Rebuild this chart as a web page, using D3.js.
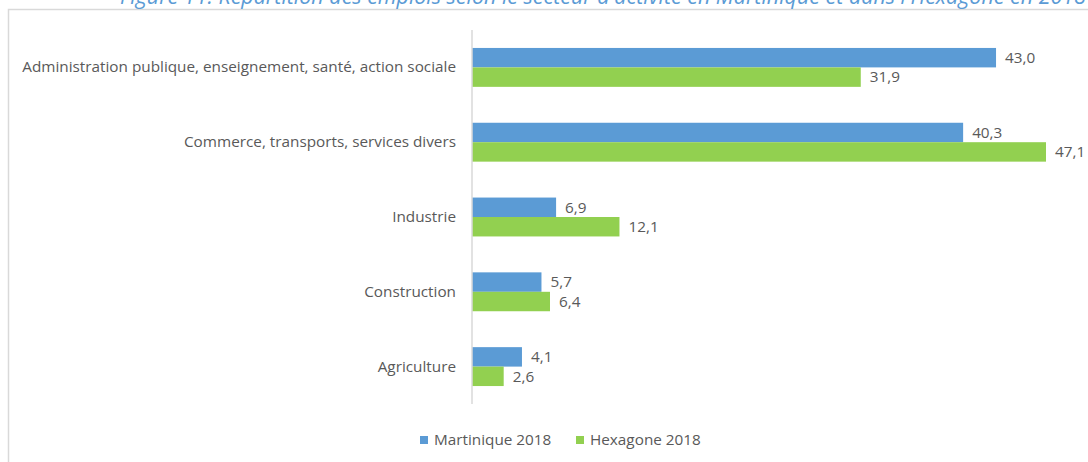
<!DOCTYPE html>
<html>
<head>
<meta charset="utf-8">
<script src="https://cdn.jsdelivr.net/npm/d3@7"></script>
<style>
  html, body { margin: 0; padding: 0; background: #fff; }
  svg { display: block; }
  text { font-family: "Open Sans", Lato, sans-serif; }
</style>
</head>
<body>
<svg id="chart" width="1088" height="462"></svg>
<script>
// Sectors, top to bottom
const categories = [
  "Administration publique, enseignement, santé, action sociale",
  "Commerce, transports, services divers",
  "Industrie",
  "Construction",
  "Agriculture"
];
const seriesNames = ["Martinique 2018", "Hexagone 2018"];
const martinique = [43.0, 40.3, 6.9, 5.7, 4.1];
const hexagone = [31.9, 47.1, 12.1, 6.4, 2.6];
const title = "Figure 11. Répartition des emplois selon le secteur d'activité en Martinique et dans l'Hexagone en 2018";

const colors = ["#5B9BD5", "#92D050"];
const textColor = "#595959";
const fmt = v => d3.format(".1f")(v).replace(".", ",");

const svg = d3.select("#chart");

// Font size that makes a string span a given width
function fitSize(str, width, base, italic) {
  const t = svg.append("text").attr("font-size", base)
    .attr("font-style", italic ? "italic" : null).text(str);
  const w = t.node().getComputedTextLength();
  t.remove();
  return base * width / w;
}
const fs = fitSize(categories[0], 434, 15);

// Chart frame (only top and left edges fall inside the view)
svg.append("path")
  .attr("d", "M8.5,1100 L8.5,9.5 L1100,9.5")
  .attr("fill", "none")
  .attr("stroke", "#d9d9d9")
  .attr("stroke-width", 1.5);

// Title, above the frame
svg.append("text")
  .attr("x", 120)
  .attr("y", 4)
  .attr("font-size", fitSize(title, 966, 16, true))
  .attr("font-style", "italic")
  .attr("fill", "#5B9BD5")
  .text(title);

const x = d3.scaleLinear().domain([0, 47.1]).range([472, 1046]);
const y = d3.scaleBand().domain(categories).range([30, 404]).paddingInner(0.48).paddingOuter(0.24);
const sub = d3.scaleBand().domain([0, 1]).range([0, y.bandwidth()]);

const rows = categories.map((c, i) => ({ c, vals: [martinique[i], hexagone[i]] }));

const groups = svg.selectAll("g.cat").data(rows).join("g")
  .attr("class", "cat")
  .attr("transform", d => `translate(0,${y(d.c)})`);

groups.selectAll("rect").data(d => d.vals).join("rect")
  .attr("x", x(0))
  .attr("y", (v, j) => sub(j))
  .attr("width", v => x(v) - x(0))
  .attr("height", sub.bandwidth())
  .attr("fill", (v, j) => colors[j]);

groups.selectAll("text.val").data(d => d.vals).join("text")
  .attr("class", "val")
  .attr("x", v => x(v) + 9)
  .attr("y", (v, j) => sub(j) + sub.bandwidth() / 2)
  .attr("dy", "0.35em")
  .attr("font-size", fs)
  .attr("fill", textColor)
  .text(fmt);

// Category axis
const yAxis = d3.axisLeft(y).tickSize(0).tickPadding(16);
const ga = svg.append("g").attr("transform", `translate(${x(0)},0)`).call(yAxis);
ga.select(".domain").attr("stroke", "#d9d9d9").attr("stroke-width", 1.5).attr("d", "M0,30V404");
ga.selectAll("text").attr("font-size", fs).attr("fill", textColor)
  .style("font-family", "'Open Sans', Lato, sans-serif");

// Legend
const legend = svg.append("g").attr("transform", "translate(420,440)");
const legendX = [0, 156];
seriesNames.forEach((name, i) => {
  const g = legend.append("g").attr("transform", `translate(${legendX[i]},0)`);
  g.append("rect").attr("x", 0).attr("y", -4).attr("width", 8).attr("height", 8).attr("fill", colors[i]);
  g.append("text").attr("x", 14).attr("y", 0).attr("dy", "0.35em")
    .attr("font-size", fs).attr("fill", textColor).text(name);
});
</script>
</body>
</html>
